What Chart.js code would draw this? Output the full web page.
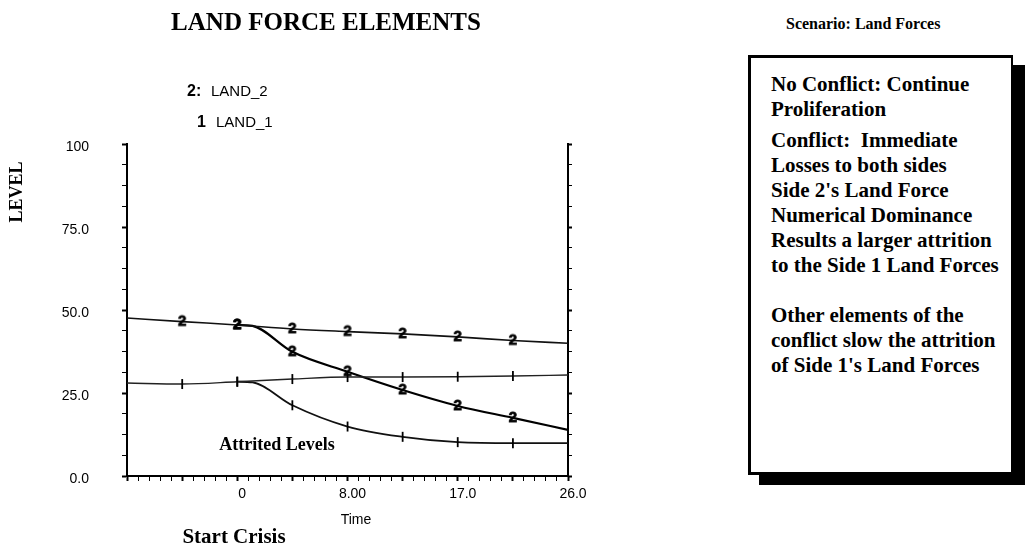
<!DOCTYPE html>
<html>
<head>
<meta charset="utf-8">
<script src="https://cdn.jsdelivr.net/npm/chart.js@4.4.0/dist/chart.umd.min.js"></script>
<style>
  body { margin: 0; background: #fff; }
  #wrap { position: relative; width: 1025px; height: 552px; overflow: hidden; }
  #myChart { position: absolute; left: 0; top: 0; }
  #scenario { position: absolute; left: 786px; top: 15px; font: bold 16px "Liberation Serif", serif; color: #000; }
  #shadow { position: absolute; left: 759px; top: 65px; width: 270px; height: 420px; background: #000; }
  #box { position: absolute; left: 748px; top: 55px; width: 265px; height: 420px; border: 3px solid #000; border-right-width: 2px; background: #fff;
         font: bold 21px "Liberation Serif", serif; line-height: 25px; color: #000; padding: 14px 0 0 20px; box-sizing: border-box; }
  #box p { margin: 0 0 6px 0; }
</style>
</head>
<body>
<div id="wrap">
  <canvas id="myChart" width="620" height="552"></canvas>
  <div id="scenario">Scenario: Land Forces</div>
  <div id="shadow"></div>
  <div id="box">
    <p>No Conflict: Continue<br>Proliferation</p>
    <p>Conflict:&nbsp; Immediate<br>Losses to both sides<br>Side 2's Land Force<br>Numerical Dominance<br>Results a larger attrition<br>to the Side 1 Land Forces</p>
    <p style="margin-top:25px">Other elements of the<br>conflict slow the attrition<br>of Side 1's Land Forces</p>
  </div>
</div>
<script>
// data block
const timeBase = [-8.67, -4.33, 0, 4.33, 8.67, 13, 17.33, 21.67, 26];
const land2Base = [47.6, 46.5, 45.5, 44.3, 43.5, 42.8, 41.9, 40.8, 40.0];
const land1Base = [28.0, 27.7, 28.4, 29.2, 29.8, 29.8, 29.9, 30.1, 30.4];

const timeAttr = [0, 1.2, 4.33, 8.67, 13, 17.33, 21.67, 26];
const land2Attr = [45.5, 45.2, 37.4, 31.4, 25.9, 21.1, 17.5, 13.9];
const land1Attr = [28.4, 28.2, 21.3, 14.9, 11.8, 10.2, 9.9, 9.9];

const xLabelTimes = [0, 8.67, 17.33, 26];
const xTickLabels = ['0', '8.00', '17.0', '26.0'];
const yLabelValues = [0, 25, 50, 75, 100];
const yTickLabels = ['0.0', '25.0', '50.0', '75.0', '100'];

const toPoints = (xs, ys) => xs.map((x, i) => ({ x: x, y: ys[i] }));

// "2" marker drawn into a small canvas, used as point style
const twoMark = document.createElement('canvas');
twoMark.width = 14;
twoMark.height = 18;
const tctx = twoMark.getContext('2d');
tctx.font = 'bold 15px "Liberation Sans"';
tctx.textAlign = 'center';
tctx.textBaseline = 'middle';
tctx.fillStyle = '#000';
tctx.strokeStyle = '#000';
tctx.lineWidth = 0.8;
tctx.fillText('2', 7, 9);
tctx.strokeText('2', 7, 9);

// markers only on the inner tick times, not at ends / split point
const markerRadius = ctx => {
    const t = ctx.raw ? ctx.raw.x : null;
    return (t !== null && t > -8 && t < 25 && t !== 1.2) ? 5 : 0;
};

const data = {
    datasets: [
        {
            label: 'LAND_2',
            data: toPoints(timeBase, land2Base),
            borderColor: '#111',
            borderWidth: 1.6,
            pointStyle: twoMark,
            pointRadius: markerRadius
        },
        {
            label: 'LAND_1',
            data: toPoints(timeBase, land1Base),
            borderColor: '#222',
            borderWidth: 1.4,
            pointStyle: 'line',
            rotation: 90,
            pointBorderColor: '#000',
            pointBorderWidth: 1.8,
            pointRadius: markerRadius
        },
        {
            label: 'LAND_2 attrited',
            data: toPoints(timeAttr, land2Attr),
            borderColor: '#000',
            borderWidth: 2.2,
            pointStyle: twoMark,
            pointRadius: markerRadius
        },
        {
            label: 'LAND_1 attrited',
            data: toPoints(timeAttr, land1Attr),
            borderColor: '#111',
            borderWidth: 1.8,
            pointStyle: 'line',
            rotation: 90,
            pointBorderColor: '#000',
            pointBorderWidth: 1.8,
            pointRadius: markerRadius
        }
    ]
};

// text that is not part of the axes
const annotations = {
    id: 'annotations',
    afterDraw(chart) {
        const c = chart.ctx;
        c.save();
        c.fillStyle = '#000';
        c.textBaseline = 'middle';
        c.textAlign = 'center';
        c.font = 'bold 25px "Liberation Serif"';
        c.fillText('LAND FORCE ELEMENTS', 326, 24);

        c.textAlign = 'left';
        c.font = 'bold 16px "Liberation Sans"';
        c.fillText('2:', 187, 92);
        c.fillText('1', 197, 123);
        c.font = '15px "Liberation Sans"';
        c.fillText('LAND_2', 211, 92);
        c.fillText('LAND_1', 216, 123);

        c.textAlign = 'center';
        c.font = '14px "Liberation Sans"';
        c.fillText('Time', 356, 520);
        c.font = 'bold 21px "Liberation Serif"';
        c.fillText('Start Crisis', 234, 538);
        c.font = 'bold 18px "Liberation Serif"';
        c.fillText('Attrited Levels', 277, 445);

        c.translate(17, 192);
        c.rotate(-Math.PI / 2);
        c.fillText('LEVEL', 0, 0);
        c.restore();
    }
};

const tickFont = { family: 'Liberation Sans', size: 14 };

// config block
const config = {
    type: 'line',
    data: data,
    options: {
        responsive: false,
        animation: false,
        layout: { padding: { top: 144, left: 0, right: 0, bottom: 0 } },
        elements: { line: { cubicInterpolationMode: 'monotone', fill: false } },
        plugins: { legend: { display: false }, tooltip: { enabled: false } },
        scales: {
            x: {
                type: 'linear',
                min: -8.67,
                max: 26,
                afterBuildTicks: axis => {
                    const ticks = [];
                    for (let i = 0; i <= 40; i++) ticks.push({ value: -8.67 + i * (34.67 / 40) });
                    axis.ticks = ticks;
                },
                afterFit: axis => { axis.height = 76; },
                border: { display: true, color: '#000', width: 2 },
                grid: {
                    drawOnChartArea: false,
                    tickLength: 5,
                    tickColor: '#000',
                    tickWidth: ctx => (ctx.index % 5 === 0 ? 2 : 1)
                },
                ticks: {
                    autoSkip: false,
                    maxRotation: 0,
                    padding: 5,
                    labelOffset: 5,
                    color: '#000',
                    font: tickFont,
                    callback: value => {
                        const i = xLabelTimes.findIndex(t => Math.abs(t - value) < 0.05);
                        return i >= 0 ? xTickLabels[i] : '';
                    }
                }
            },
            y: {
                min: 0,
                max: 100,
                afterBuildTicks: axis => {
                    const ticks = [];
                    for (let v = 0; v <= 100; v += 6.25) ticks.push({ value: v });
                    axis.ticks = ticks;
                },
                afterFit: axis => { axis.width = 127; },
                border: { display: true, color: '#000', width: 2 },
                grid: {
                    drawOnChartArea: false,
                    tickLength: 5,
                    tickColor: '#000',
                    tickWidth: ctx => (ctx.index % 4 === 0 ? 2 : 1)
                },
                ticks: {
                    autoSkip: false,
                    padding: 33,
                    labelOffset: 3,
                    color: '#000',
                    font: tickFont,
                    callback: value => {
                        const i = yLabelValues.indexOf(value);
                        return i >= 0 ? yTickLabels[i] : '';
                    }
                }
            },
            y2: {
                position: 'right',
                min: 0,
                max: 100,
                afterBuildTicks: axis => {
                    const ticks = [];
                    for (let v = 0; v <= 100; v += 6.25) ticks.push({ value: v });
                    axis.ticks = ticks;
                },
                afterFit: axis => { axis.width = 52; },
                border: { display: true, color: '#000', width: 2 },
                grid: {
                    drawOnChartArea: false,
                    tickLength: 4,
                    tickColor: '#000',
                    tickWidth: ctx => (ctx.index % 4 === 0 ? 2 : 1)
                },
                ticks: { display: false }
            }
        }
    },
    plugins: [annotations]
};

// init render block
const ctx = document.getElementById('myChart');
const myChart = new Chart(ctx, config);
</script>
</body>
</html>
